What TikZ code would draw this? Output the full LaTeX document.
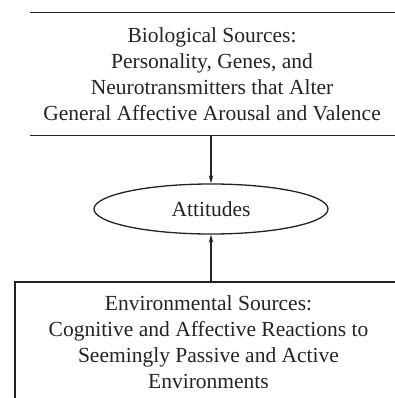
\documentclass[tikz,border=0pt]{standalone}
\usepackage{fontspec}
\setmainfont{Liberation Serif}
\usetikzlibrary{shapes.geometric,arrows.meta}
\definecolor{scanink}{RGB}{35,35,35}
\tikzset{every node/.style={align=center, text=scanink,
        font=\fontsize{21.5}{26}\selectfont},
    source box/.style={inner sep=0pt},
    rule/.style={draw=scanink, line width=1.3pt},
    link/.style={rule, -{Stealth[length=8pt,width=4.5pt]}},
    }

\begin{document}
\begin{tikzpicture}[x=1pt,y=1pt]
\useasboundingbox (0,0) rectangle (395,-398);
% top source
\node[source box, minimum width=364pt, minimum height=122pt] (bio) at (212,-74)
    {Biological Sources:\\Personality, Genes, and\\Neurotransmitters that Alter\\General Affective Arousal and Valence};
\coordinate (pageR) at (400,0);
\draw[rule] (bio.north west) -- (bio.north west -| pageR);
\draw[rule] (bio.south west) -- (bio.south west -| pageR);
% attitudes
\node[ellipse, rule, minimum width=234pt, minimum height=50pt, inner sep=0pt] (att) at (211,-209) {Attitudes};
% bottom source
\node[source box, rule, minimum width=387pt, minimum height=120pt] (env) at (208.5,-342)
    {Environmental Sources:\\Cognitive and Affective Reactions to\\Seemingly Passive and Active\\Environments};
\draw[link] (bio.south -| att.north) -- (att.north);
\draw[link] (env.north -| att.south) -- (att.south);
\end{tikzpicture}
\end{document}
